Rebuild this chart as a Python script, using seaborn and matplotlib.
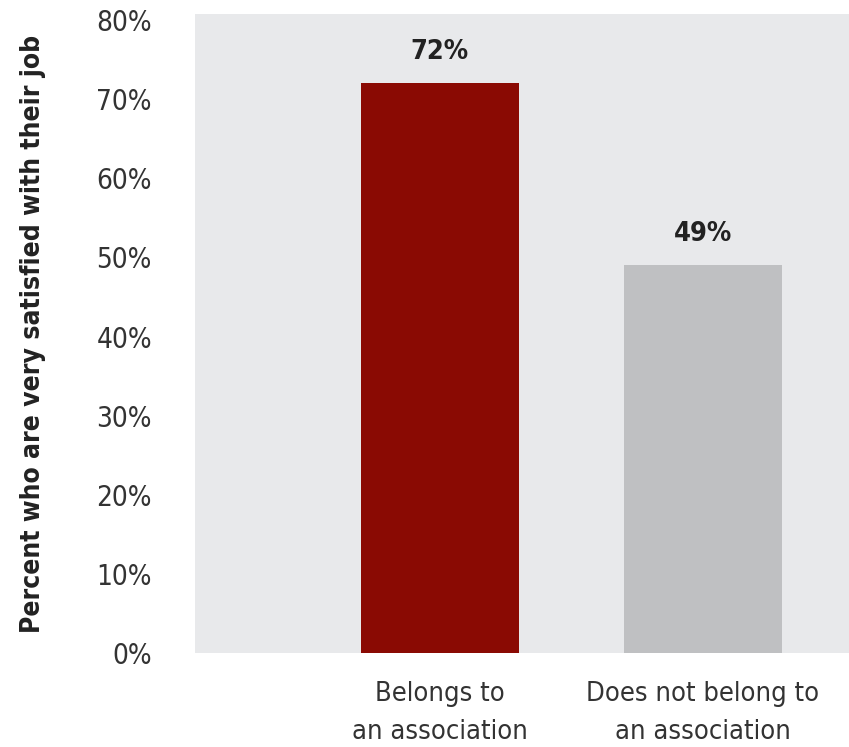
import matplotlib
matplotlib.use("Agg")
import matplotlib.pyplot as plt
import seaborn as sns
import pandas as pd

categories = ["Belongs to\nan association", "Does not belong to\nan association"]
values = [0.72, 0.49]
value_labels = ["72%", "49%"]
yticks = [0, 0.1, 0.2, 0.3, 0.4, 0.5, 0.6, 0.7, 0.8]
ytick_labels = ["0%", "10%", "20%", "30%", "40%", "50%", "60%", "70%", "80%"]
bar_colors = ["#8A0A03", "#BFC0C2"]

sns.set_theme(style="white")
plt.rcParams["font.family"] = ["DejaVu Sans"]
plt.rcParams["font.stretch"] = "condensed"

df = pd.DataFrame({"cat": categories, "val": values})

fig = plt.figure(figsize=(8.49, 7.47), dpi=100)
ax = fig.add_axes([195/849, (747-653)/747, 1 - 195/849, (653-14)/747])
ax.set_facecolor("#E8E9EB")
sns.barplot(data=df, x="cat", y="val", hue="cat", palette=bar_colors,
            width=0.6, ax=ax, legend=False, saturation=1, linewidth=0)

for p, lab in zip(ax.patches, value_labels):
    ax.annotate(lab, (p.get_x() + p.get_width()/2, p.get_height()),
                xytext=(0, 13), textcoords="offset points", ha="center", va="bottom",
                fontsize=19.5, fontweight="bold", color="#222222", fontstretch="condensed")

ax.set_ylim(0, 0.8076)
ax.set_xlim(-0.93, 1.555)
ax.set_yticks(yticks)
ax.set_yticklabels(ytick_labels, fontsize=20, color="#333333", fontstretch="condensed")
ax.tick_params(axis="y", length=0, pad=31)
ax.tick_params(axis="x", length=0, pad=20)
ax.set_xticks(range(len(categories)))
ax.set_xticklabels(categories, fontsize=19.5, color="#333333", fontstretch="condensed",
                   linespacing=1.6)
ax.set_xlabel("")
ax.set_ylabel("Percent who are very satisfied with their job", fontsize=19,
              fontweight="bold", color="#222222", labelpad=36, fontstretch="condensed")
for s in ax.spines.values():
    s.set_visible(False)
ax.grid(False)

fig.savefig("out.png", dpi=100, facecolor="white")
